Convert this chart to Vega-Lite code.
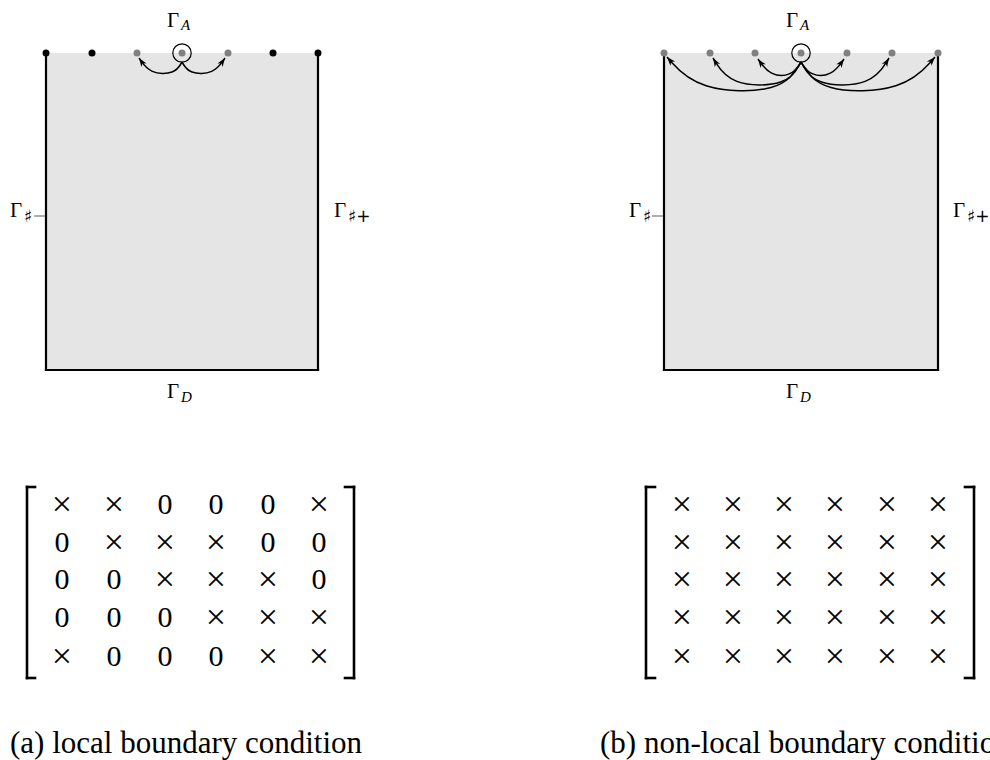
{
  "$schema": "https://vega.github.io/schema/vega-lite/v6.json",
  "width": 990,
  "height": 760,
  "autosize": {"type": "none"},
  "padding": 0,
  "background": "white",
  "config": {"view": {"stroke": null}},
  "datasets": {
    "rects": [
      {"x": 46, "y": 53, "x2": 318, "y2": 370},
      {"x": 664, "y": 53, "x2": 938, "y2": 370}
    ],
    "walls": [
      {"x": 46, "y": 53, "x2": 46, "y2": 370},
      {"x": 318, "y": 53, "x2": 318, "y2": 370},
      {"x": 46, "y": 370, "x2": 318, "y2": 370},
      {"x": 664, "y": 53, "x2": 664, "y2": 370},
      {"x": 938, "y": 53, "x2": 938, "y2": 370},
      {"x": 664, "y": 370, "x2": 938, "y2": 370}
    ],
    "brackets": [
      {"x": 27, "y": 487, "x2": 27, "y2": 678},
      {"x": 27, "y": 487, "x2": 35, "y2": 487},
      {"x": 27, "y": 678, "x2": 35, "y2": 678},
      {"x": 354, "y": 487, "x2": 354, "y2": 678},
      {"x": 345, "y": 487, "x2": 354, "y2": 487},
      {"x": 345, "y": 678, "x2": 354, "y2": 678},
      {"x": 646, "y": 487, "x2": 646, "y2": 678},
      {"x": 646, "y": 487, "x2": 655, "y2": 487},
      {"x": 646, "y": 678, "x2": 655, "y2": 678},
      {"x": 974, "y": 487, "x2": 974, "y2": 678},
      {"x": 965, "y": 487, "x2": 974, "y2": 487},
      {"x": 965, "y": 678, "x2": 974, "y2": 678}
    ],
    "ticks": [
      {"x": 34, "y": 216, "x2": 45, "y2": 216},
      {"x": 652, "y": 216, "x2": 663, "y2": 216}
    ],
    "curves": [
      {"id": "L1", "i": 0, "x": 182, "y": 62}, {"id": "L1", "i": 1, "x": 175, "y": 74}, {"id": "L1", "i": 2, "x": 150, "y": 74}, {"id": "L1", "i": 3, "x": 139, "y": 58},
      {"id": "L2", "i": 0, "x": 182, "y": 62}, {"id": "L2", "i": 1, "x": 189, "y": 74}, {"id": "L2", "i": 2, "x": 214, "y": 74}, {"id": "L2", "i": 3, "x": 225, "y": 58},
      {"id": "R1", "i": 0, "x": 801, "y": 62}, {"id": "R1", "i": 1, "x": 792, "y": 76}, {"id": "R1", "i": 2, "x": 770, "y": 76}, {"id": "R1", "i": 3, "x": 758, "y": 59},
      {"id": "R2", "i": 0, "x": 801, "y": 62}, {"id": "R2", "i": 1, "x": 788, "y": 86}, {"id": "R2", "i": 2, "x": 730, "y": 86}, {"id": "R2", "i": 3, "x": 713, "y": 58},
      {"id": "R3", "i": 0, "x": 801, "y": 62}, {"id": "R3", "i": 1, "x": 782, "y": 93}, {"id": "R3", "i": 2, "x": 697, "y": 91}, {"id": "R3", "i": 3, "x": 667, "y": 57},
      {"id": "R4", "i": 0, "x": 801, "y": 62}, {"id": "R4", "i": 1, "x": 810, "y": 76}, {"id": "R4", "i": 2, "x": 832, "y": 76}, {"id": "R4", "i": 3, "x": 844, "y": 59},
      {"id": "R5", "i": 0, "x": 801, "y": 62}, {"id": "R5", "i": 1, "x": 814, "y": 86}, {"id": "R5", "i": 2, "x": 872, "y": 86}, {"id": "R5", "i": 3, "x": 889, "y": 58},
      {"id": "R6", "i": 0, "x": 801, "y": 62}, {"id": "R6", "i": 1, "x": 820, "y": 93}, {"id": "R6", "i": 2, "x": 905, "y": 91}, {"id": "R6", "i": 3, "x": 935, "y": 57}
    ],
    "heads": [
      {"x": 139, "y": 58, "fx": 150, "fy": 74},
      {"x": 225, "y": 58, "fx": 214, "fy": 74},
      {"x": 758, "y": 59, "fx": 770, "fy": 76},
      {"x": 713, "y": 58, "fx": 730, "fy": 86},
      {"x": 667, "y": 57, "fx": 697, "fy": 91},
      {"x": 844, "y": 59, "fx": 832, "fy": 76},
      {"x": 889, "y": 58, "fx": 872, "fy": 86},
      {"x": 935, "y": 57, "fx": 905, "fy": 91}
    ],
    "dots": [
      {"x": 46, "y": 53, "kind": "fixed"},
      {"x": 92, "y": 53, "kind": "fixed"},
      {"x": 137, "y": 53, "kind": "coupled"},
      {"x": 182, "y": 53, "kind": "coupled"},
      {"x": 228, "y": 53, "kind": "coupled"},
      {"x": 273, "y": 53, "kind": "fixed"},
      {"x": 318, "y": 53, "kind": "fixed"},
      {"x": 664, "y": 53, "kind": "coupled"},
      {"x": 710, "y": 53, "kind": "coupled"},
      {"x": 755, "y": 53, "kind": "coupled"},
      {"x": 801, "y": 53, "kind": "coupled"},
      {"x": 847, "y": 53, "kind": "coupled"},
      {"x": 892, "y": 53, "kind": "coupled"},
      {"x": 938, "y": 53, "kind": "coupled"}
    ],
    "rings": [
      {"x": 182, "y": 53},
      {"x": 801, "y": 53}
    ],
    "gammas": [
      {"x": 167, "y": 27, "t": "Γ"},
      {"x": 167, "y": 398, "t": "Γ"},
      {"x": 10, "y": 217, "t": "Γ"},
      {"x": 334, "y": 217, "t": "Γ"},
      {"x": 786, "y": 27, "t": "Γ"},
      {"x": 786, "y": 398, "t": "Γ"},
      {"x": 629, "y": 217, "t": "Γ"},
      {"x": 953, "y": 217, "t": "Γ"}
    ],
    "subs": [
      {"x": 181, "y": 30, "t": "A"},
      {"x": 181, "y": 402, "t": "D"},
      {"x": 800, "y": 30, "t": "A"},
      {"x": 800, "y": 402, "t": "D"}
    ],
    "sharps": [
      {"x": 24, "y": 222, "t": "♯"},
      {"x": 348, "y": 222, "t": "♯+"},
      {"x": 643, "y": 222, "t": "♯"},
      {"x": 967, "y": 222, "t": "♯+"}
    ],
    "matrix": [
      {"x": 62, "y": 505, "t": "×"}, {"x": 114, "y": 505, "t": "×"}, {"x": 165, "y": 505, "t": "0"}, {"x": 216, "y": 505, "t": "0"}, {"x": 268, "y": 505, "t": "0"}, {"x": 319, "y": 505, "t": "×"},
      {"x": 62, "y": 543, "t": "0"}, {"x": 114, "y": 543, "t": "×"}, {"x": 165, "y": 543, "t": "×"}, {"x": 216, "y": 543, "t": "×"}, {"x": 268, "y": 543, "t": "0"}, {"x": 319, "y": 543, "t": "0"},
      {"x": 62, "y": 580, "t": "0"}, {"x": 114, "y": 580, "t": "0"}, {"x": 165, "y": 580, "t": "×"}, {"x": 216, "y": 580, "t": "×"}, {"x": 268, "y": 580, "t": "×"}, {"x": 319, "y": 580, "t": "0"},
      {"x": 62, "y": 618, "t": "0"}, {"x": 114, "y": 618, "t": "0"}, {"x": 165, "y": 618, "t": "0"}, {"x": 216, "y": 618, "t": "×"}, {"x": 268, "y": 618, "t": "×"}, {"x": 319, "y": 618, "t": "×"},
      {"x": 62, "y": 657, "t": "×"}, {"x": 114, "y": 657, "t": "0"}, {"x": 165, "y": 657, "t": "0"}, {"x": 216, "y": 657, "t": "0"}, {"x": 268, "y": 657, "t": "×"}, {"x": 319, "y": 657, "t": "×"},
      {"x": 682, "y": 505, "t": "×"}, {"x": 733, "y": 505, "t": "×"}, {"x": 784, "y": 505, "t": "×"}, {"x": 835, "y": 505, "t": "×"}, {"x": 887, "y": 505, "t": "×"}, {"x": 938, "y": 505, "t": "×"},
      {"x": 682, "y": 543, "t": "×"}, {"x": 733, "y": 543, "t": "×"}, {"x": 784, "y": 543, "t": "×"}, {"x": 835, "y": 543, "t": "×"}, {"x": 887, "y": 543, "t": "×"}, {"x": 938, "y": 543, "t": "×"},
      {"x": 682, "y": 580, "t": "×"}, {"x": 733, "y": 580, "t": "×"}, {"x": 784, "y": 580, "t": "×"}, {"x": 835, "y": 580, "t": "×"}, {"x": 887, "y": 580, "t": "×"}, {"x": 938, "y": 580, "t": "×"},
      {"x": 682, "y": 618, "t": "×"}, {"x": 733, "y": 618, "t": "×"}, {"x": 784, "y": 618, "t": "×"}, {"x": 835, "y": 618, "t": "×"}, {"x": 887, "y": 618, "t": "×"}, {"x": 938, "y": 618, "t": "×"},
      {"x": 682, "y": 657, "t": "×"}, {"x": 733, "y": 657, "t": "×"}, {"x": 784, "y": 657, "t": "×"}, {"x": 835, "y": 657, "t": "×"}, {"x": 887, "y": 657, "t": "×"}, {"x": 938, "y": 657, "t": "×"}
    ],
    "captions": [
      {"x": 10, "y": 753, "t": "(a) local boundary condition"},
      {"x": 600, "y": 753, "t": "(b) non-local boundary condition"}
    ]
  },
  "encoding": {
    "x": {"field": "x", "type": "quantitative", "scale": {"domain": [0, 990], "nice": false, "zero": false}, "axis": null},
    "y": {"field": "y", "type": "quantitative", "scale": {"domain": [0, 760], "nice": false, "zero": false, "reverse": true}, "axis": null}
  },
  "layer": [
    {
      "data": {"name": "rects"},
      "mark": {"type": "rect", "fill": "#e5e5e5"},
      "encoding": {"x2": {"field": "x2"}, "y2": {"field": "y2"}}
    },
    {
      "data": {"name": "walls"},
      "mark": {"type": "rule", "color": "black", "strokeWidth": 2.2, "strokeCap": "square"},
      "encoding": {"x2": {"field": "x2"}, "y2": {"field": "y2"}}
    },
    {
      "data": {"name": "brackets"},
      "mark": {"type": "rule", "color": "black", "strokeWidth": 2.6, "strokeCap": "square"},
      "encoding": {"x2": {"field": "x2"}, "y2": {"field": "y2"}}
    },
    {
      "data": {"name": "ticks"},
      "mark": {"type": "rule", "color": "#808080", "strokeWidth": 1.3},
      "encoding": {"x2": {"field": "x2"}, "y2": {"field": "y2"}}
    },
    {
      "data": {"name": "curves"},
      "mark": {"type": "line", "interpolate": "basis", "color": "black", "strokeWidth": 1.5},
      "encoding": {"detail": {"field": "id"}, "order": {"field": "i", "type": "quantitative"}}
    },
    {
      "data": {"name": "heads"},
      "transform": [{"calculate": "atan2(datum.x - datum.fx, datum.fy - datum.y) * 180 / PI", "as": "ang"}],
      "mark": {"type": "point", "shape": "M0,0L0.75,2.1L0,1.5L-0.75,2.1Z", "filled": true, "color": "black", "size": 70, "opacity": 1},
      "encoding": {"angle": {"field": "ang", "type": "quantitative", "scale": null}}
    },
    {
      "data": {"name": "dots"},
      "mark": {"type": "point", "shape": "circle", "filled": true, "size": 49, "opacity": 1},
      "encoding": {"color": {"field": "kind", "type": "nominal", "scale": {"domain": ["fixed", "coupled"], "range": ["#000000", "#808080"]}, "legend": null}}
    },
    {
      "data": {"name": "rings"},
      "mark": {"type": "point", "shape": "circle", "filled": false, "stroke": "black", "strokeWidth": 1.2, "size": 340, "opacity": 1}
    },
    {
      "data": {"name": "gammas"},
      "mark": {"type": "text", "font": "Liberation Serif", "fontSize": 21, "align": "left", "baseline": "alphabetic", "color": "black"},
      "encoding": {"text": {"field": "t"}}
    },
    {
      "data": {"name": "subs"},
      "mark": {"type": "text", "font": "Liberation Serif", "fontStyle": "italic", "fontSize": 15, "align": "left", "baseline": "alphabetic", "color": "black"},
      "encoding": {"text": {"field": "t"}}
    },
    {
      "data": {"name": "sharps"},
      "mark": {"type": "text", "font": "DejaVu Sans", "fontSize": 17, "align": "left", "baseline": "alphabetic", "color": "black"},
      "encoding": {"text": {"field": "t"}}
    },
    {
      "data": {"name": "matrix"},
      "transform": [{"filter": "datum.t == '0'"}],
      "mark": {"type": "text", "font": "Liberation Serif", "fontSize": 30, "align": "center", "baseline": "middle", "color": "black"},
      "encoding": {"text": {"field": "t"}}
    },
    {
      "data": {"name": "matrix"},
      "transform": [{"filter": "datum.t == '×'"}],
      "mark": {"type": "text", "font": "Liberation Serif", "fontSize": 36, "align": "center", "baseline": "middle", "color": "black"},
      "encoding": {"text": {"field": "t"}}
    },
    {
      "data": {"name": "captions"},
      "mark": {"type": "text", "font": "Liberation Serif", "fontSize": 31, "align": "left", "baseline": "alphabetic", "color": "black"},
      "encoding": {"text": {"field": "t"}}
    }
  ]
}
